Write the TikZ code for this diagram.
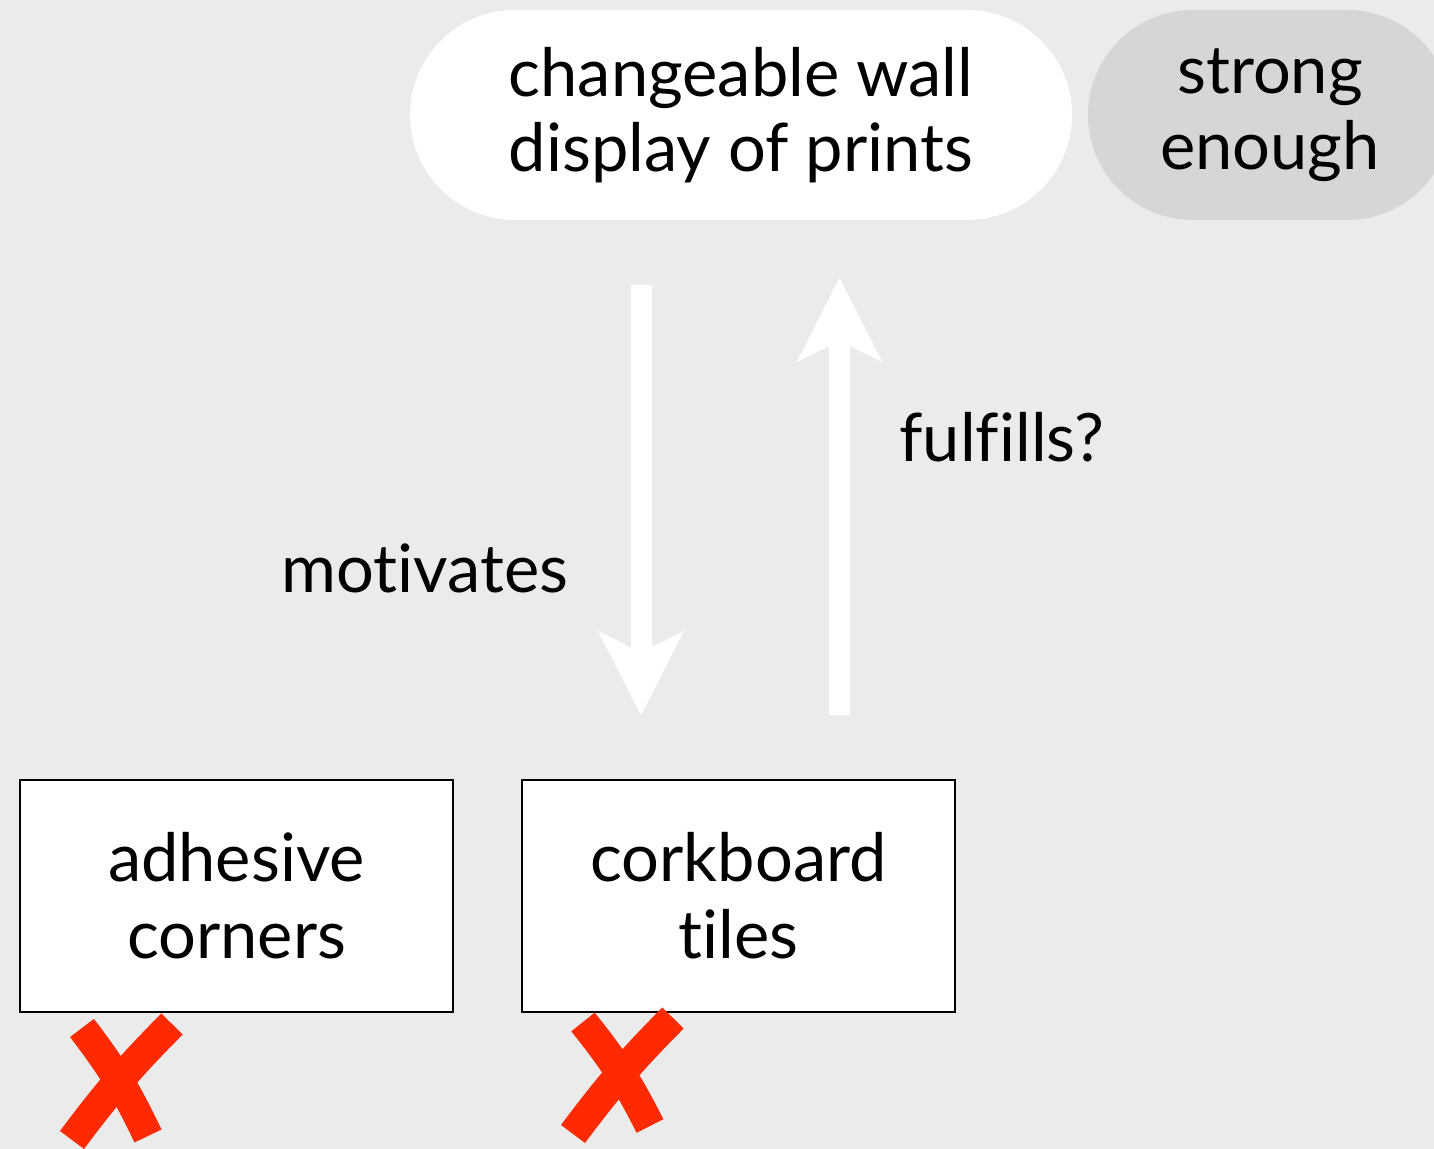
\documentclass[tikz,border=0pt]{standalone}
\usepackage{fontspec}
\setmainfont{Lato}[Ligatures=NoCommon]
\usetikzlibrary{arrows.meta,positioning}
\definecolor{bggray}{RGB}{235,235,235}
\definecolor{pillgray}{RGB}{214,214,214}
\definecolor{crossred}{RGB}{255,42,0}
\tikzset{
    pill/.style={rounded corners=1.05cm, minimum width=6.62cm, minimum height=2.1cm,
        align=center, font=\fontsize{19}{21.5}\selectfont},
    optionbox/.style={draw=black, line width=0.8pt, fill=white, minimum width=4.33cm,
        minimum height=2.32cm, align=center, font=\fontsize{19}{22}\selectfont},
    bigarrow/.style={white, line width=0.21cm,
        -{Stealth[length=0.83cm, width=0.83cm, inset=0.2cm]}},
    crossmark/.style={crossred, line width=0.3cm},
    label/.style={font=\fontsize{19}{22}\selectfont}
}
\begin{document}
\begin{tikzpicture}
        \useasboundingbox (0,0) rectangle (14.34,11.49);
        \fill[bggray] (0,0) rectangle (14.34,11.49);

        % goal and criterion
        \node[pill, fill=white] (wall) at (7.41,10.34) {changeable wall\\display of prints};
        \node[pill, fill=pillgray, minimum width=3.64cm] (strong) at (12.70,10.34) {strong\\enough};

        % options
        \node[optionbox] (adhesive) at (2.365,2.53) {adhesive\\corners};
        \node[optionbox] (corkboard) at (7.385,2.53) {corkboard\\tiles};

        % relations
        \draw[bigarrow, shorten <=0.64cm, shorten >=0.63cm]
            ([xshift=-1cm]wall.south) -- ([xshift=-1cm]wall.south |- corkboard.north);
        \draw[bigarrow, shorten <=0.64cm, shorten >=0.57cm]
            ([xshift=0.985cm]wall.south |- corkboard.north) -- ([xshift=0.985cm]wall.south);
        \node[label] (motivates) at (4.25,5.81) {motivates};
        \node[label] (fulfills) at (10.02,7.12) {fulfills?};

        % rejected
        \draw[crossmark] (0.82,1.21) to[bend left=6] (1.48,0.13);
        \draw[crossmark] (1.72,1.25) to[bend right=4] (0.72,0.09);
        \draw[crossmark] (5.83,1.27) to[bend left=6] (6.50,0.23);
        \draw[crossmark] (6.73,1.31) to[bend right=4] (5.73,0.15);
\end{tikzpicture}
\end{document}
